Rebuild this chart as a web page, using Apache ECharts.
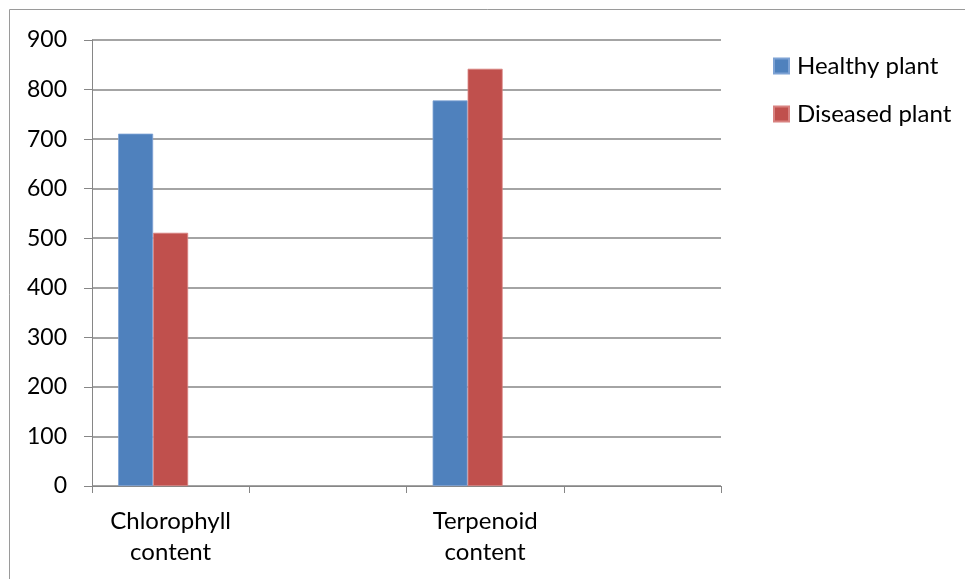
<!DOCTYPE html>
<html><head><meta charset="utf-8">
<script src="https://cdn.jsdelivr.net/npm/echarts@6/dist/echarts.min.js"></script>
<style>html,body{margin:0;padding:0;background:#fff}#c{width:965px;height:579px}</style>
</head><body><div id="c"></div>
<script>
const categories = ["Chlorophyll content", "", "Terpenoid content", ""];
const healthy = [711, null, 778, null];
const diseased = [511, null, 842, null];
const emptySeries = [null, null, null, null];
const yTicks = [0, 100, 200, 300, 400, 500, 600, 700, 800, 900];

const font = "Lato, 'Open Sans', sans-serif";
const chart = echarts.init(document.getElementById('c'), null, {renderer: 'canvas'});
chart.setOption({
  animation: false,
  backgroundColor: '#fff',
  graphic: [{
    type: 'rect', silent: true,
    shape: {x: 9.5, y: 9.5, width: 1000, height: 1000},
    style: {fill: 'none', stroke: '#9a9a9a', lineWidth: 1}
  }],
  grid: {left: 92, right: 244, top: 40, bottom: 93, containLabel: false},
  legend: {
    data: ['Healthy plant', 'Diseased plant'],
    orient: 'vertical', left: 773, top: 52, padding: 0,
    itemWidth: 15, itemHeight: 15, itemGap: 20,
    icon: 'rect',
    textStyle: {fontFamily: font, fontSize: 24, lineHeight: 28, color: '#000', padding: [0, 0, 0, 3]}
  },
  xAxis: {
    type: 'category', data: categories, boundaryGap: true,
    axisLine: {lineStyle: {color: '#868686', width: 1}},
    axisTick: {show: true, interval: 0, length: 7, lineStyle: {color: '#868686'}},
    axisLabel: {
      interval: 0, margin: 20, color: '#000', fontFamily: font, fontSize: 24, lineHeight: 31,
      formatter: v => v.replace(' ', '\n')
    },
    splitLine: {show: false}
  },
  yAxis: {
    type: 'value', min: yTicks[0], max: yTicks[yTicks.length - 1], interval: 100,
    axisLine: {show: true, lineStyle: {color: '#868686', width: 1}},
    axisTick: {show: true, inside: false, length: 8, lineStyle: {color: '#868686'}},
    axisLabel: {margin: 25, color: '#000', fontFamily: font, fontSize: 23},
    splitLine: {lineStyle: {color: '#868686', width: 1.5}}
  },
  series: [
    {name: 'Healthy plant', type: 'bar', data: healthy, barWidth: 35, barGap: '0%',
     itemStyle: {color: '#4F81BD', borderColor: '#7da2d4', borderWidth: 0.8}},
    {name: 'Diseased plant', type: 'bar', data: diseased, barWidth: 35, barGap: '0%',
     itemStyle: {color: '#C0504D', borderColor: '#d88280', borderWidth: 0.8}},
    {name: 'Empty', type: 'bar', data: emptySeries, barWidth: 35, barGap: '0%',
     itemStyle: {color: '#9BBB59'}}
  ]
});
</script></body></html>
